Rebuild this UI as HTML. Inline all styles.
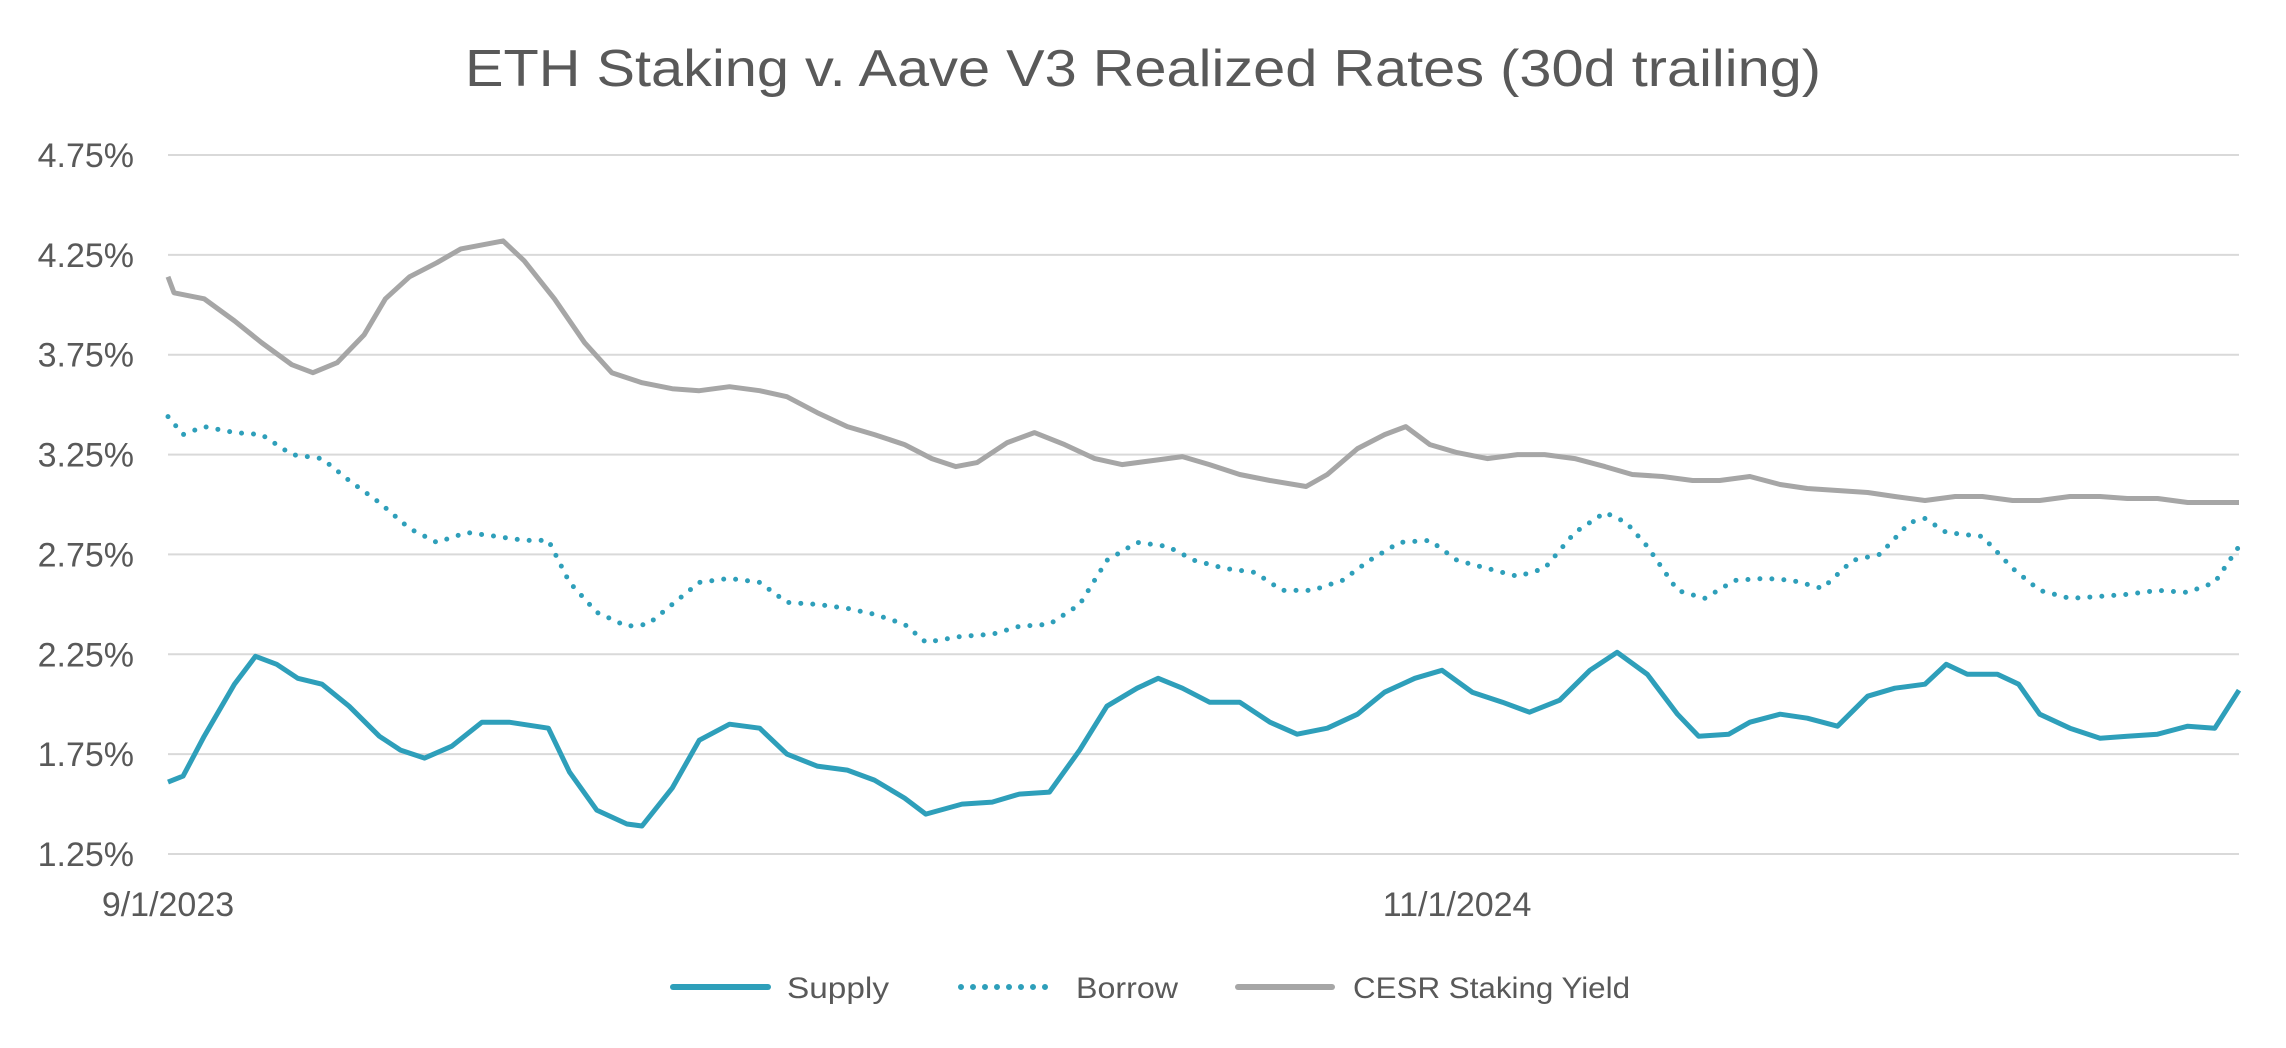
<!DOCTYPE html>
<html><head><meta charset="utf-8"><style>
html,body{margin:0;padding:0;background:#fff;}
svg{display:block;font-family:"Liberation Sans",sans-serif;}
</style></head><body>
<svg id="chart" width="2286" height="1048" viewBox="0 0 2286 1048" xmlns="http://www.w3.org/2000/svg">
<rect width="2286" height="1048" fill="#fff"/>
<text x="1143" y="86" text-anchor="middle" font-size="52" fill="#595959" textLength="1356" lengthAdjust="spacingAndGlyphs">ETH Staking v. Aave V3 Realized Rates (30d trailing)</text>
<g id="grid"></g>
<g id="yaxis"></g>
<g id="xaxis"></g>
<g id="series"></g>
<g>
<g>
<line x1="673" y1="987" x2="768" y2="987" stroke="#2E9FBA" stroke-width="6" stroke-linecap="round"/>
<text x="787" y="998" font-size="30" fill="#595959" textLength="102" lengthAdjust="spacingAndGlyphs">Supply</text></g>
<g>
<line x1="961" y1="987" x2="1057" y2="987" stroke="#2E9FBA" stroke-width="6" stroke-linecap="round" stroke-dasharray="0 12"/>
<text x="1076" y="998" font-size="30" fill="#595959" textLength="102" lengthAdjust="spacingAndGlyphs">Borrow</text></g>
<g>
<line x1="1238" y1="987" x2="1332" y2="987" stroke="#A6A6A6" stroke-width="6" stroke-linecap="round"/>
<text x="1353" y="998" font-size="30" fill="#595959" textLength="277" lengthAdjust="spacingAndGlyphs">CESR Staking Yield</text></g>
</g>
</svg>
<script>
const yTicks=[1.25,1.75,2.25,2.75,3.25,3.75,4.25,4.75];
const yTickLabels=["1.25%","1.75%","2.25%","2.75%","3.25%","3.75%","4.25%","4.75%"];
const xTickDays=[0,427];
const xTickLabels=["9/1/2023","11/1/2024"];
const cesrDays=[0,2,12,22,31,41,48,56,65,72,80,89,97,104,111,118,128,138,147,157,167,176,186,196,205,215,225,234,244,253,261,268,278,287,297,307,316,326,336,345,355,365,377,384,394,403,410,418,427,437,447,456,466,476,485,495,505,514,524,534,543,553,563,572,582,592,601,611,620,630,640,649,659,669,678,686];
const cesrValues=[4.14,4.06,4.03,3.92,3.81,3.70,3.66,3.71,3.85,4.03,4.14,4.21,4.28,4.30,4.32,4.22,4.03,3.81,3.66,3.61,3.58,3.57,3.59,3.57,3.54,3.46,3.39,3.35,3.30,3.23,3.19,3.21,3.31,3.36,3.30,3.23,3.20,3.22,3.24,3.20,3.15,3.12,3.09,3.15,3.28,3.35,3.39,3.30,3.26,3.23,3.25,3.25,3.23,3.19,3.15,3.14,3.12,3.12,3.14,3.10,3.08,3.07,3.06,3.04,3.02,3.04,3.04,3.02,3.02,3.04,3.04,3.03,3.03,3.01,3.01,3.01];
const borrowDays=[0,5,12,22,31,41,51,60,70,80,89,99,109,118,126,133,142,152,159,167,176,186,196,205,215,225,234,244,251,263,273,282,292,302,311,321,331,340,350,360,369,379,389,398,408,418,427,437,447,456,466,476,483,490,500,509,519,529,538,548,558,567,577,582,589,601,611,620,630,640,649,659,669,678,686];
const borrowValues=[3.44,3.35,3.39,3.36,3.35,3.25,3.23,3.12,3.01,2.88,2.81,2.86,2.84,2.82,2.82,2.61,2.46,2.39,2.40,2.50,2.61,2.63,2.61,2.51,2.50,2.48,2.45,2.40,2.31,2.34,2.35,2.39,2.40,2.50,2.72,2.81,2.79,2.72,2.68,2.66,2.57,2.57,2.62,2.72,2.81,2.82,2.72,2.68,2.64,2.68,2.86,2.96,2.91,2.79,2.57,2.53,2.62,2.63,2.62,2.58,2.72,2.75,2.91,2.93,2.86,2.84,2.68,2.57,2.53,2.54,2.55,2.57,2.56,2.61,2.79];
const supplyDays=[0,5,12,22,29,36,43,51,60,70,77,85,94,104,113,126,133,142,152,157,167,176,186,196,205,215,225,234,244,251,263,273,282,292,302,311,321,328,336,345,355,365,374,384,394,403,413,422,432,442,451,461,471,480,490,500,507,517,524,534,543,553,563,572,582,589,596,606,613,620,630,640,649,659,669,678,686];
const supplyValues=[1.61,1.64,1.84,2.10,2.24,2.20,2.13,2.10,1.99,1.84,1.77,1.73,1.79,1.91,1.91,1.88,1.66,1.47,1.40,1.39,1.58,1.82,1.90,1.88,1.75,1.69,1.67,1.62,1.53,1.45,1.50,1.51,1.55,1.56,1.77,1.99,2.08,2.13,2.08,2.01,2.01,1.91,1.85,1.88,1.95,2.06,2.13,2.17,2.06,2.01,1.96,2.02,2.17,2.26,2.15,1.95,1.84,1.85,1.91,1.95,1.93,1.89,2.04,2.08,2.10,2.20,2.15,2.15,2.10,1.95,1.88,1.83,1.84,1.85,1.89,1.88,2.07];

const X0=168,X1=2239,MAXDAY=686,Y0=854,Y1=155,VMIN=1.25,VMAX=4.75;
function xs(d){return X0+(X1-X0)*d/MAXDAY;}
function ys(v){return Y0-(Y0-Y1)*(v-VMIN)/(VMAX-VMIN);}
const NS="http://www.w3.org/2000/svg";
function mk(tag,attrs,parent){const e=document.createElementNS(NS,tag);for(const k in attrs)e.setAttribute(k,attrs[k]);parent.appendChild(e);return e;}
const grid=document.getElementById('grid'),yaxis=document.getElementById('yaxis'),xaxis=document.getElementById('xaxis'),series=document.getElementById('series');
yTicks.forEach((v,i)=>{
  const l=mk('line',{x1:X0,x2:X1,y1:ys(v),y2:ys(v),stroke:'#D9D9D9','stroke-width':2},grid);
  
  
  const t=mk('text',{x:134,y:ys(v)+12,'text-anchor':'end','font-size':34,fill:'#595959'},yaxis);
  t.textContent=yTickLabels[i];
  
  
});
xTickDays.forEach((d,i)=>{
  const t=mk('text',{x:xs(d),y:916,'text-anchor':'middle','font-size':34,fill:'#595959'},xaxis);
  t.textContent=xTickLabels[i];
  
  
});
function path(days,vals){return days.map((d,i)=>(i?'L':'M')+xs(d).toFixed(1)+' '+ys(vals[i]).toFixed(1)).join(' ');}
const pc=mk('path',{d:path(cesrDays,cesrValues),fill:'none',stroke:'#A6A6A6','stroke-width':5,'stroke-linejoin':'round'},series);


const pb=mk('path',{d:path(borrowDays,borrowValues),fill:'none',stroke:'#2E9FBA','stroke-width':5,'stroke-linecap':'round','stroke-dasharray':'0 12'},series);


const ps=mk('path',{d:path(supplyDays,supplyValues),fill:'none',stroke:'#2E9FBA','stroke-width':5,'stroke-linejoin':'round'},series);


</script>
</body></html>
